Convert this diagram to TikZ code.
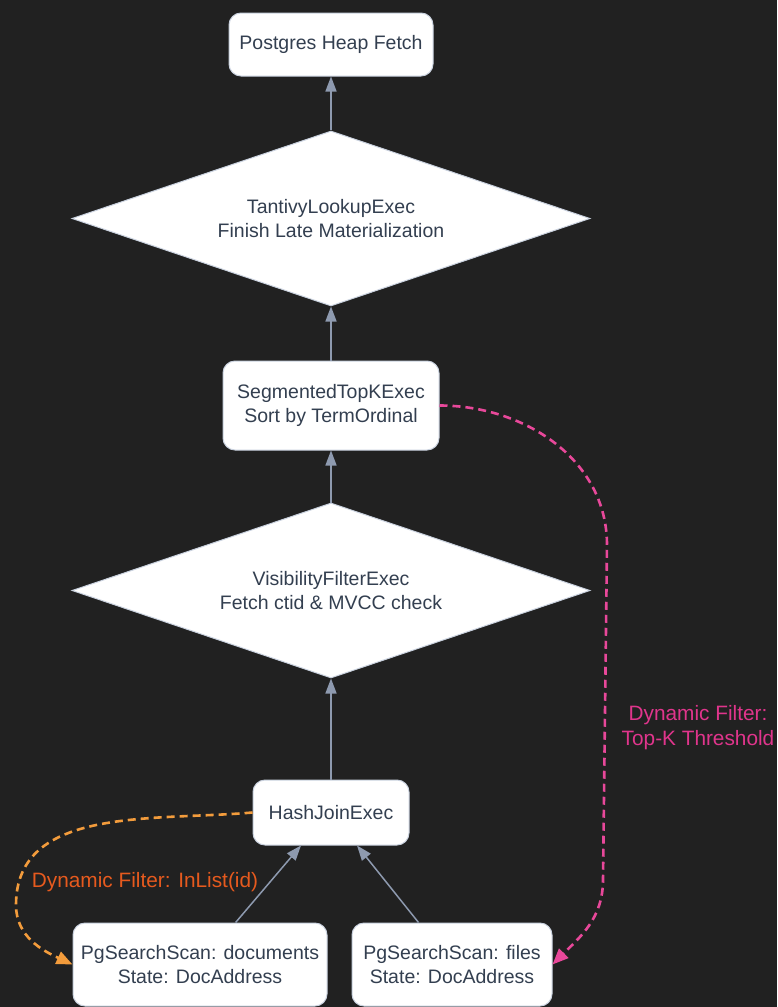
\documentclass[tikz,border=0pt]{standalone}
\usepackage{fontspec}
\setmainfont{Liberation Sans}
\usepackage{xcolor}
\usetikzlibrary{positioning,arrows.meta,shapes.geometric}

\definecolor{bgdark}{HTML}{212121}
\definecolor{edgegray}{HTML}{C9D1DE}
\definecolor{inkslate}{HTML}{333F50}
\definecolor{arrowgray}{HTML}{8E9AAF}
\definecolor{orangeline}{HTML}{F39C3C}
\definecolor{orangetext}{HTML}{E65A1E}
\definecolor{pinkline}{HTML}{E8489A}
\definecolor{pinktext}{HTML}{E0358C}

\begin{document}
\begin{tikzpicture}[
    x=1pt, y=1pt,
    node distance=54pt,
    box/.style={draw=edgegray, line width=1pt, fill=white, rounded corners=12pt, align=center, text=inkslate, font=\fontsize{19.5}{24}\selectfont, minimum height=63pt},
    decide/.style={draw=edgegray, line width=1pt, fill=white, shape=diamond, aspect=2.96, minimum width=518pt, minimum height=175pt, inner sep=0pt, align=center, text=inkslate, font=\fontsize{19.5}{24}\selectfont},
    arr/.style={-{Triangle[length=15pt, width=11pt]}, line width=1.5pt, draw=arrowgray},
    dyn/.style={dash pattern=on 8pt off 5pt, line width=2.6pt, -{Triangle[length=16pt, width=13pt]}},
    lbl/.style={align=center, font=\fontsize{20.8}{25}\selectfont}
  ]
    \fill[bgdark] (0,0) rectangle (777,-1007);
    \useasboundingbox (0,0) rectangle (777,-1007);

    \node[box, minimum width=204pt] (fetch) at (331,-44.5) {Postgres Heap Fetch};
    \node[decide, below=54pt of fetch] (lookup) {TantivyLookupExec\\Finish Late Materialization};
    \node[box, minimum width=216pt, minimum height=89pt, below=54pt of lookup] (topk) {SegmentedTopKExec\\Sort by TermOrdinal};
    \node[decide, below=52pt of topk] (visible) {VisibilityFilterExec\\Fetch ctid \& MVCC check};
    \node[box, minimum width=156pt, minimum height=65pt, below=101pt of visible] (hash) {HashJoinExec};
    \node[box, minimum width=254pt, minimum height=83pt, below=77pt of hash, xshift=-131pt] (docs) {PgSearchScan: documents\\State: DocAddress};
    \node[box, minimum width=200pt, minimum height=83pt, below=77pt of hash, xshift=121pt] (files) {PgSearchScan: files\\State: DocAddress};

    \draw[arr] (lookup) -- (fetch);
    \draw[arr] (topk) -- (lookup);
    \draw[arr] (visible) -- (topk);
    \draw[arr] (hash) -- (visible);
    \draw[arr] (docs) -- ([xshift=-30pt]hash.south);
    \draw[arr] (files) -- ([xshift=26pt]hash.south);

    % dynamic filters
    \coordinate (ilbend) at (16,-905);
    \draw[dyn, draw=orangeline] (hash.west) to[out=185, in=90] (ilbend) to[out=-90, in=155] (docs.west);
    \node[lbl, text=orangetext] (inlist) at (145,-882) {Dynamic Filter: InList(id)};

    \coordinate (tkbend) at (607,-545);
    \coordinate (tkdrop) at (603,-880);
    \draw[dyn, draw=pinkline] (topk.east) to[out=0, in=90] (tkbend) -- (tkdrop) to[out=-90, in=45] (files.east);
    \node[lbl, text=pinktext] (topkthr) at (698,-728) {Dynamic Filter:\\Top-K Threshold};
  \end{tikzpicture}
\end{document}
